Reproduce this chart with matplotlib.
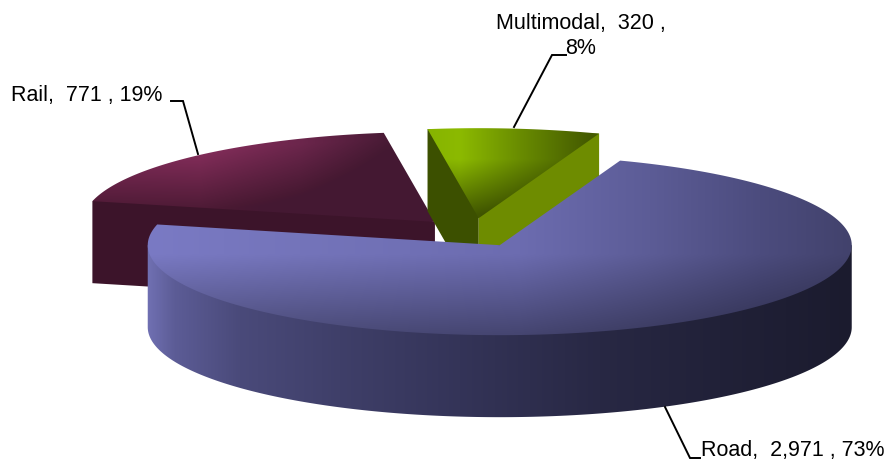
import numpy as np
import matplotlib
matplotlib.use("Agg")
import matplotlib.pyplot as plt
from matplotlib.patches import Polygon

categories = ["Road", "Rail", "Multimodal"]
values = [2971, 771, 320]
percent_labels = ["73%", "19%", "8%"]

plt.rcParams['font.family'] = ['Liberation Sans', 'DejaVu Sans']

W, H = 890, 464
fig = plt.figure(figsize=(W / 100, H / 100), dpi=100)
ax = fig.add_axes([0, 0, 1, 1])
ax.set_xlim(0, W)
ax.set_ylim(H, 0)
ax.axis("off")

# pie projection
CX, CY = 473.0, 233.5
A, B = 352.0, 90.0
EXPLODE = 0.16
DEPTH = 82.0
START = 70.0

total = sum(values)
sweeps = [v / total * 360.0 for v in values]
wedges = []
a0 = START
for s in sweeps:
    a1 = a0 - s
    mid = np.radians((a0 + a1) / 2)
    cx = CX + EXPLODE * A * np.cos(mid)
    cy = CY - EXPLODE * B * np.sin(mid)
    wedges.append((cx, cy, a0, a1))
    a0 = a1


def rim(cx, cy, t):
    t = np.radians(t)
    return np.column_stack([cx + A * np.cos(t), cy - B * np.sin(t)])


XX, YY = np.meshgrid(np.arange(W) + .5, np.arange(H) + .5)


def paint(rgb, poly, z):
    """Fill a polygon with a per-pixel colour field."""
    patch = Polygon(poly, closed=True, transform=ax.transData, fc="none", ec="none")
    ax.add_patch(patch)
    im = ax.imshow(np.clip(rgb, 0, 255).astype(np.uint8), extent=(0, W, H, 0),
                   interpolation="bilinear", zorder=z, aspect="auto")
    im.set_clip_path(patch)


def ramp(v, stops, cols):
    return np.stack([np.interp(v, stops, [c[i] for c in cols]) for i in range(3)], axis=-1)


def flat(c):
    return np.broadcast_to(np.array(c, float), XX.shape + (3,)).copy()


def cut_face(apex, edge, inner):
    # extruded cut face; the 'inner' point tucks it under the top surface so no seam shows
    return np.vstack([apex + [0, DEPTH], edge + [0, DEPTH], edge, inner, apex])


# ---- Rail
cx, cy, a0, a1 = wedges[1]
arc = rim(cx, cy, np.linspace(a1, a0, 80))
apex = np.array([[cx, cy]])
inner = np.vstack([arc, apex]).mean(axis=0, keepdims=True)
paint(flat((60, 20, 42)), cut_face(apex, arc[-1:], inner), 2)
rail = ramp(XX, [90, 200, 300, 385, 440], [(125, 42, 86), (134, 46, 92), (108, 38, 76), (74, 27, 54), (66, 24, 48)])
rail = rail * (1 - 0.42 * np.clip((YY - 150 + (XX - 200) * 0.05) / 60, 0, 1))[..., None]
rail = np.maximum(rail, np.array([68, 24, 50.]))
paint(rail, np.vstack([apex, arc]), 3)

# ---- Multimodal
cx, cy, a0, a1 = wedges[2]
arc = rim(cx, cy, np.linspace(a1, a0, 40))
apex = np.array([[cx, cy]])
inner = np.vstack([arc, apex]).mean(axis=0, keepdims=True)
paint(flat((60, 80, 0)), cut_face(apex, arc[-1:], inner), 4)
paint(flat((110, 140, 0)), cut_face(apex, arc[:1], inner), 4)
green = ramp(XX, [430, 460, 520, 590], [(135, 180, 0), (140, 186, 0), (105, 140, 0), (68, 90, 0)])
green = green * (1 - 0.5 * np.clip((YY - 160) / 55, 0, 1))[..., None]
green = np.maximum(green, np.array([62, 82, 0.]))
paint(green, np.vstack([apex, arc]), 5)

# ---- Road
cx, cy, a0, a1 = wedges[0]
arc = rim(cx, cy, np.linspace(a1, a0, 300))
apex = np.array([[cx, cy]])
side_top = rim(cx, cy, np.linspace(-180, 0, 300))
side = np.vstack([apex, side_top[::-1], side_top + [0, DEPTH]])
side = np.vstack([side_top, (side_top + [0, DEPTH])[::-1][:-1], side_top[:1], apex, side_top[-1:]])
paint(ramp(XX, [148, 175, 240, 340, 460, 600, 720, 852],
           [(112, 112, 178), (92, 92, 150), (74, 74, 122), (63, 63, 105), (52, 52, 88),
            (40, 40, 68), (33, 33, 56), (27, 27, 46)]),
      np.vstack([side_top + [0, DEPTH], side_top[-1:], apex, side_top[:1]]), 6)
road = ramp(XX, [148, 300, 520, 650, 760, 852],
            [(122, 122, 196), (116, 116, 186), (108, 108, 176), (92, 92, 150), (76, 76, 126), (66, 66, 108)])
road = road * (1 - 0.36 * np.clip((YY - 255) / 80, 0, 1))[..., None]
paint(road, np.vstack([apex, arc]), 7)

# ---- Labels and leaders
txt = dict(color="black", fontsize=15.5, zorder=10)
ax.text(581, 36, f"{categories[2]},  {values[2]:,} ,\n{percent_labels[2]}", ha="center", va="center",
        linespacing=1.3, **txt)
ax.text(11, 96, f"{categories[1]},  {values[1]:,} , {percent_labels[1]}", ha="left", va="center", **txt)
ax.text(701, 451, f"{categories[0]},  {values[0]:,} , {percent_labels[0]}", ha="left", va="center", **txt)

lead = dict(color="black", lw=1.4, zorder=9, solid_joinstyle="miter")
ax.plot([566, 552, 514], [56, 56, 128], **lead)
ax.plot([171, 183, 198], [102, 102, 155], **lead)
ax.plot([665, 690, 700], [408, 459, 459], **lead)

ax.set_xlim(0, W)
ax.set_ylim(H, 0)
fig.savefig("out.png", dpi=100)
